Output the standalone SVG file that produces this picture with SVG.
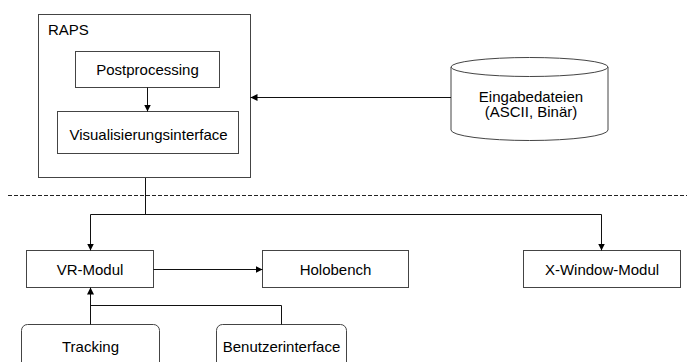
<svg xmlns="http://www.w3.org/2000/svg" width="687" height="362" viewBox="0 0 687 362">
<defs>
<marker id="ah" viewBox="0 0 10 10" refX="10" refY="5" markerWidth="7" markerHeight="7" markerUnits="userSpaceOnUse" orient="auto">
<path d="M0,0 L10,5 L0,10 z" fill="#000"/>
</marker>
</defs>
<style>
.box{fill:#fff;stroke:#444;stroke-width:1}
.ln{fill:none;stroke:#111;stroke-width:1}
.t{font-family:"Liberation Sans",Arial,sans-serif;font-size:15px;fill:#000;text-anchor:middle}
</style>
<rect width="687" height="362" fill="#fff"/>
<g id="raps">
<rect class="box" x="38.5" y="14.5" width="212" height="163"/>
<text class="t" x="48" y="35" style="text-anchor:start">RAPS</text>
</g>
<g id="postprocessing">
<rect class="box" x="75.5" y="51.5" width="144" height="36"/>
<text class="t" x="147.5" y="75">Postprocessing</text>
</g>
<g id="visualisierungsinterface">
<rect class="box" x="57.5" y="111.5" width="181" height="42"/>
<text class="t" x="148.5" y="139.5">Visualisierungsinterface</text>
</g>
<g id="eingabedateien">
<path class="box" d="M451,67 L451,130 A78.5,10.5 0 0 0 608,130 L608,67"/>
<ellipse class="box" cx="529.5" cy="67" rx="78.5" ry="9.5"/>
<text class="t" x="531" y="101.5">Eingabedateien</text>
<text class="t" x="531" y="117">(ASCII, Binär)</text>
</g>
<g id="vr-modul">
<rect class="box" x="26.5" y="250.5" width="127" height="37"/>
<text class="t" x="90" y="274.5">VR-Modul</text>
</g>
<g id="holobench">
<rect class="box" x="262.5" y="250.5" width="146" height="37"/>
<text class="t" x="335.5" y="274.5">Holobench</text>
</g>
<g id="x-window-modul">
<rect class="box" x="523.5" y="250.5" width="157" height="37"/>
<text class="t" x="602" y="274.5">X-Window-Modul</text>
</g>
<g id="tracking">
<rect class="box" x="21.5" y="324.5" width="138" height="50" rx="6" ry="6"/>
<text class="t" x="90.5" y="351.5">Tracking</text>
</g>
<g id="benutzerinterface">
<rect class="box" x="216.5" y="324.5" width="130" height="50" rx="6" ry="6"/>
<text class="t" x="281.5" y="351.5">Benutzerinterface</text>
</g>
<g id="connectors">
<line x1="8" y1="195.5" x2="687" y2="195.5" stroke="#222" stroke-width="1" stroke-dasharray="4,2"/>
<line class="ln" x1="147.5" y1="87.5" x2="147.5" y2="111.5" marker-end="url(#ah)"/>
<line class="ln" x1="451" y1="97.5" x2="250.5" y2="97.5" marker-end="url(#ah)"/>
<polyline class="ln" points="145.5,178 145.5,214.5"/>
<polyline class="ln" points="90.5,214.5 601.5,214.5"/>
<line class="ln" x1="90.5" y1="214.5" x2="90.5" y2="250.5" marker-end="url(#ah)"/>
<line class="ln" x1="601.5" y1="214.5" x2="601.5" y2="250.5" marker-end="url(#ah)"/>
<line class="ln" x1="153.5" y1="269.5" x2="262.5" y2="269.5" marker-end="url(#ah)"/>
<line class="ln" x1="90.5" y1="324.5" x2="90.5" y2="287.5" marker-end="url(#ah)"/>
<polyline class="ln" points="281.5,324.5 281.5,305.5 90.5,305.5"/>
</g>
</svg>
